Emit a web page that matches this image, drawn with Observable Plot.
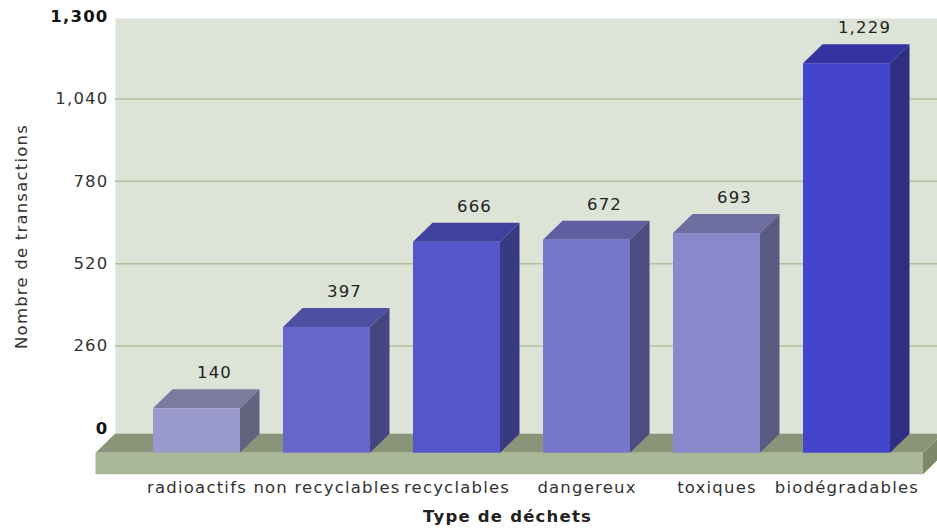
<!DOCTYPE html>
<html>
<head>
<meta charset="utf-8">
<script src="https://cdn.jsdelivr.net/npm/d3@7"></script>
<script src="https://cdn.jsdelivr.net/npm/@observablehq/plot@0.6"></script>
<style>
  html, body { margin: 0; padding: 0; background: #ffffff; }
  #chart svg { display: block; }
</style>
</head>
<body>
<div id="chart"></div>
<script>
// ---- data ----
const categories = ["radioactifs", "non recyclables", "recyclables", "dangereux", "toxiques", "biodégradables"];
const values = [140, 397, 666, 672, 693, 1229];
const yTicks = [0, 260, 520, 780, 1040, 1300];
const boldTicks = [0, 1300];
const frontColors = ["#9999cc", "#6666cc", "#5555cc", "#7777cc", "#8888cc", "#4444cc"];
const topColors   = ["#7b7b9f", "#4e4ea2", "#40409f", "#5e5ea0", "#6d6d9f", "#3434a0"];
const sideColors  = ["#63637f", "#45457f", "#393982", "#4c4c80", "#5b5b82", "#2e2e82"];
const yTitle = "Nombre de transactions";
const xTitle = "Type de déchets";

const data = categories.map((c, i) => ({cat: c, value: values[i], i}));

// ---- 3D geometry (pixels) ----
const FRONT_DY = 24.7;   // front face shift below the back wall baseline
const DEPTH_X = 19.5;    // depth projection
const DEPTH_Y = -19;
const fmt = d3.format(",");
const FONT = "DejaVu Sans, Verdana, sans-serif";

function bwOf(x) { return typeof x.bandwidth === "function" ? x.bandwidth() : x.bandwidth; }

// floor (base slab) drawn from the frame dimensions
function floorRender(index, scales, values, dim) {
  const g = d3.create("svg:g");
  const yb = scales.y(0) + FRONT_DY;
  const left = dim.marginLeft - DEPTH_X;
  const right = dim.width - dim.marginRight - 14;
  const th = 21.5;
  g.append("polygon")
    .attr("points", [[left, yb], [left + DEPTH_X, yb + DEPTH_Y], [right + DEPTH_X, yb + DEPTH_Y], [right, yb]].join(" "))
    .attr("fill", "#8a9478");
  g.append("polygon")
    .attr("points", [[left, yb], [right, yb], [right, yb + th], [left, yb + th]].join(" "))
    .attr("fill", "#abb898");
  g.append("polygon")
    .attr("points", [[right, yb], [right + DEPTH_X, yb + DEPTH_Y], [right + DEPTH_X, yb + DEPTH_Y + th], [right, yb + th]].join(" "))
    .attr("fill", "#7d8868");
  return g.node();
}

// top and side faces of the 3D bars, through the chart's scales
function facesRender(index, scales) {
  const g = d3.create("svg:g");
  const bw = bwOf(scales.x);
  for (const i of index) {
    const d = data[i];
    const x0 = scales.x(d.cat), x1 = x0 + bw;
    const yTop = scales.y(d.value) + FRONT_DY;
    const yBot = scales.y(0) + FRONT_DY;
    g.append("polygon")
      .attr("points", [[x0, yTop], [x0 + DEPTH_X, yTop + DEPTH_Y], [x1 + DEPTH_X, yTop + DEPTH_Y], [x1, yTop]].join(" "))
      .attr("fill", topColors[d.i]);
    g.append("polygon")
      .attr("points", [[x1, yTop], [x1 + DEPTH_X, yTop + DEPTH_Y], [x1 + DEPTH_X, yBot + DEPTH_Y], [x1, yBot]].join(" "))
      .attr("fill", sideColors[d.i]);
  }
  return g.node();
}

const chart = Plot.plot({
  width: 937,
  height: 529,
  marginLeft: 115,
  marginRight: 0,
  marginTop: 18,
  marginBottom: 95,
  style: {fontFamily: FONT, background: "#ffffff", overflow: "visible"},
  x: {domain: categories, range: [111.8, 931.2], paddingInner: 0.327, paddingOuter: 0.3, axis: null},
  y: {domain: [0, 1300], range: [428, 16], axis: null},
  color: {domain: categories, range: frontColors},
  marks: [
    Plot.frame({fill: "#dde3d6", stroke: null}),
    Plot.ruleY(yTicks.filter(t => t > 0 && t < 1300), {stroke: "#b3c09c", strokeWidth: 1.5}),
    Plot.barY([0], {x: () => categories[0], y: d => d, render: floorRender}),
    Plot.barY(data, {x: "cat", y: "value", render: facesRender}),
    Plot.barY(data, {x: "cat", y: "value", fill: "cat", dy: FRONT_DY}),
    // value labels
    Plot.text(data, {x: "cat", y: "value", text: d => fmt(d.value), dx: DEPTH_X - 2, dy: -11,
      fontSize: 16.5, fill: "#222"}),
    // y tick labels
    Plot.text(yTicks.filter(t => !boldTicks.includes(t)), {y: d => d, text: d => fmt(d), frameAnchor: "left",
      textAnchor: "end", dx: -7, fontSize: 16.5, fill: "#333"}),
    Plot.text(boldTicks, {y: d => d, text: d => fmt(d), frameAnchor: "left",
      textAnchor: "end", dx: -7, fontSize: 16.5, fontWeight: "bold", fill: "#111"}),
    // x category labels
    Plot.text(categories, {x: d => d, text: d => d, frameAnchor: "bottom", dy: 58.5,
      fontSize: 16.5, fill: "#333"}),
    // axis titles
    Plot.text([xTitle], {frameAnchor: "bottom", dx: 507 - (115 + 937) / 2, dy: 87.5,
      fontSize: 16.5, fontWeight: "bold", fill: "#222"}),
    Plot.text([yTitle], {frameAnchor: "left", textAnchor: "middle", lineAnchor: "middle",
      dx: -94, dy: 10, rotate: -90, fontSize: 16.5, fill: "#333"})
  ]
});
d3.select(chart).selectAll("text").style("letter-spacing", function() {
  return d3.select(this).attr("font-weight") === "bold" ? "0.3px" : "1.2px";
});
document.getElementById("chart").appendChild(chart);
</script>
</body>
</html>
